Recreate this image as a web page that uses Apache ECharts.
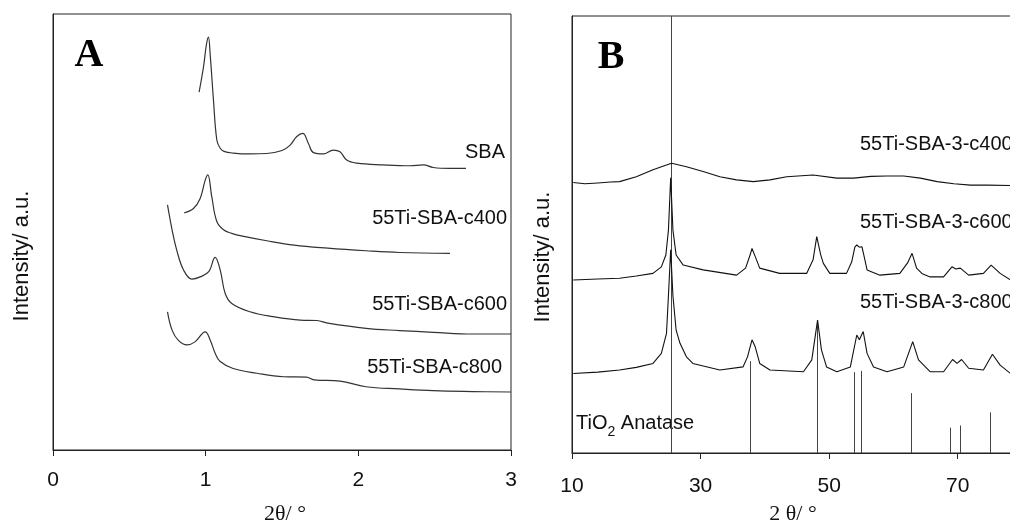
<!DOCTYPE html>
<html><head><meta charset="utf-8">
<script src="https://cdn.jsdelivr.net/npm/echarts@6/dist/echarts.min.js"></script>
<style>html,body{margin:0;padding:0;background:#fff}#c{width:1010px;height:524px}</style>
</head><body><div id="c"></div>
<script>
// ---------- Panel A (low-angle) ----------
const xTicksA = [0, 1, 2, 3];
const sba = [[0.957,82.1],[0.986,87.9],[1.005,93.0],[1.018,94.7],[1.03,90.5],[1.051,80.3],[1.073,71.1],[1.095,69.2],[1.12,68.5],[1.18,68.1],[1.29,67.9],[1.4,68.0],[1.5,68.7],[1.55,69.8],[1.597,71.9],[1.636,72.6],[1.673,70.3],[1.706,68.2],[1.771,67.9],[1.836,68.8],[1.88,68.4],[1.924,66.5],[1.99,65.8],[2.164,65.4],[2.338,65.2],[2.426,65.4],[2.491,64.8],[2.6,64.6],[2.705,64.6]];
const c400A = [[0.86,54.4],[0.92,55.4],[0.964,57.7],[0.997,61.9],[1.014,63.1],[1.04,58.1],[1.073,52.4],[1.117,50.5],[1.17,49.7],[1.25,49.0],[1.4,48.0],[1.58,47.0],[1.8,46.3],[2.05,45.7],[2.27,45.3],[2.6,45.1]];
const c600A = [[0.75,56.2],[0.78,50.5],[0.81,45.9],[0.855,41.3],[0.91,39.2],[0.964,39.7],[1.02,40.9],[1.062,44.2],[1.095,41.3],[1.128,35.9],[1.171,33.6],[1.29,31.7],[1.44,30.6],[1.62,29.8],[1.73,29.7],[1.8,29.1],[2.05,27.9],[2.27,27.4],[2.49,27.0],[2.75,26.6],[3.0,26.6]];
const c800A = [[0.75,31.7],[0.78,27.5],[0.82,25.2],[0.877,24.1],[0.93,24.8],[0.997,27.1],[1.03,25.2],[1.062,22.2],[1.095,20.3],[1.18,18.7],[1.335,17.6],[1.51,16.8],[1.66,16.7],[1.71,16.1],[1.88,15.8],[2.05,14.5],[2.27,14.0],[2.49,13.6],[2.75,13.4],[3.0,13.3]];
const labelsA = ['SBA', '55Ti-SBA-c400', '55Ti-SBA-c600', '55Ti-SBA-c800'];

// ---------- Panel B (wide-angle) ----------
const xTicksB = [10, 30, 50, 70];
const c400B = [[10.2,61.9],[12,61.6],[14,61.8],[16,62.0],[17.4,62.1],[20.0,63.2],[22.6,64.8],[24.7,65.9],[25.5,66.3],[27.8,65.5],[30.4,64.4],[33.0,63.2],[35.6,62.5],[38.2,62.1],[40.8,62.5],[43.4,63.2],[47.5,63.6],[51.2,62.9],[53.8,62.9],[56.5,63.3],[59.0,63.4],[61.6,63.4],[64.2,62.9],[66.8,62.1],[69.4,61.6],[72.0,61.3],[74.6,61.3],[78.2,61.2],[80,61.1]];
const c600B = [[10.2,39.6],[14,39.8],[17.4,40.0],[20,40.5],[22.6,41.1],[23.9,42.6],[24.6,45.3],[25.0,51.0],[25.35,63.0],[25.7,51.0],[26.2,45.3],[27.3,43.0],[30.4,41.9],[35.6,40.7],[37.0,42.3],[37.7,45.3],[38.0,46.8],[38.6,44.6],[39.2,42.3],[42.3,41.1],[46.5,41.1],[47.5,44.2],[48.07,49.5],[48.7,45.3],[49.1,43.4],[50.1,41.1],[52.7,41.1],[53.5,43.7],[54.0,47.1],[54.3,47.6],[54.7,47.1],[55.1,47.2],[55.5,44.6],[55.9,41.9],[57.9,40.7],[61.0,41.1],[62.2,43.5],[62.9,45.7],[63.6,42.3],[64.5,41.0],[65.7,40.3],[67.8,40.3],[69.1,42.6],[69.7,42.1],[70.4,42.3],[71.7,40.7],[74.0,41.1],[75.2,43.0],[76.6,41.1],[78.2,39.6],[80,39.4]];
const c800B = [[10.2,18.2],[14,18.5],[17.4,19.0],[20,19.6],[22.6,20.5],[23.9,22.8],[24.7,27.4],[25.0,36.0],[25.35,46.5],[25.7,36.0],[26.2,28.1],[26.8,25.1],[27.8,22.0],[28.8,20.5],[33.0,19.0],[36.6,19.7],[37.3,22.0],[38.0,25.9],[38.5,24.3],[39.2,20.5],[40.8,19.0],[46.0,18.6],[47.3,21.3],[48.2,30.4],[48.8,23.6],[49.6,19.7],[51.2,18.6],[53.3,19.7],[54.3,27.0],[54.7,25.9],[55.3,27.8],[55.9,22.8],[56.9,19.7],[59.0,18.6],[61.6,19.7],[63.0,25.5],[63.9,21.3],[65.7,18.6],[67.8,18.6],[69.2,21.4],[69.9,20.5],[70.6,21.4],[71.7,19.4],[74.0,19.0],[75.4,22.6],[76.6,20.1],[78.2,18.2],[80,17.8]];
const anatasePos = [25.33, 37.7, 48.07, 53.93, 54.92, 62.76, 68.83, 70.39, 75.06];
const anataseInt = [100, 21.0, 29.5, 18.5, 18.8, 13.7, 5.8, 6.3, 9.3];
const labelsB = ['55Ti-SBA-3-c400', '55Ti-SBA-3-c600', '55Ti-SBA-3-c800'];

const SANS = '"Liberation Sans", Arial, sans-serif';
const SERIF = '"Liberation Serif", "Times New Roman", serif';
const AXC = '#222';

const chart = echarts.init(document.getElementById('c'), null, {renderer: 'canvas'});

function xAxisCfg(idx, min, max, interval, margin) {
  return {
    type: 'value', gridIndex: idx, min: min, max: max, interval: interval,
    axisLine: {show: true, onZero: false, lineStyle: {color: AXC, width: 1}},
    axisTick: {show: true, length: 6, lineStyle: {color: AXC}},
    axisLabel: {show: true, margin: margin, fontSize: 21, color: '#111', fontFamily: SANS,
      formatter: v => ((idx === 0 ? xTicksA : xTicksB).indexOf(v) >= 0 ? String(v) : '')},
    splitLine: {show: false}
  };
}
function yAxisCfg(idx) {
  return {
    type: 'value', gridIndex: idx, min: 0, max: 100,
    axisLine: {show: true, lineStyle: {color: AXC, width: 1}},
    axisTick: {show: false}, axisLabel: {show: false}, splitLine: {show: false}
  };
}
const lineStyleA = {color: '#333', width: 1.2};
const lineStyleB = {color: '#111', width: 1.1};

const anatase = anatasePos.map((p, i) => [p, anataseInt[i]]);

chart.setOption({
  animation: false,
  backgroundColor: '#fff',
  grid: [
    {left: 53, top: 14, width: 458, height: 436, show: true, borderColor: AXC, borderWidth: 1, containLabel: false, outerBoundsMode: 'none'},
    {left: 572, top: 16, width: 450, height: 437, show: true, borderColor: AXC, borderWidth: 1, containLabel: false, outerBoundsMode: 'none'}
  ],
  xAxis: [xAxisCfg(0, 0, 3, 1, 20), xAxisCfg(1, 10, 80, 20, 23)],
  yAxis: [yAxisCfg(0), yAxisCfg(1)],
  series: [
    {type: 'line', xAxisIndex: 0, yAxisIndex: 0, data: sba, showSymbol: false, smooth: 0.4, lineStyle: lineStyleA},
    {type: 'line', xAxisIndex: 0, yAxisIndex: 0, data: c400A, showSymbol: false, smooth: 0.4, lineStyle: lineStyleA},
    {type: 'line', xAxisIndex: 0, yAxisIndex: 0, data: c600A, showSymbol: false, smooth: 0.4, lineStyle: lineStyleA},
    {type: 'line', xAxisIndex: 0, yAxisIndex: 0, data: c800A, showSymbol: false, smooth: 0.4, lineStyle: lineStyleA},
    {type: 'custom', xAxisIndex: 1, yAxisIndex: 1, data: anatase, clip: true,
      renderItem: function (params, api) {
        const p0 = api.coord([api.value(0), 0]);
        const p1 = api.coord([api.value(0), api.value(1)]);
        return {type: 'line', shape: {x1: Math.round(p0[0]) + 0.5, y1: p0[1], x2: Math.round(p1[0]) + 0.5, y2: p1[1]},
          style: {stroke: '#444', lineWidth: 1}};
      }},
    {type: 'line', xAxisIndex: 1, yAxisIndex: 1, data: c400B, showSymbol: false, lineStyle: lineStyleB},
    {type: 'line', xAxisIndex: 1, yAxisIndex: 1, data: c600B, showSymbol: false, lineStyle: lineStyleB},
    {type: 'line', xAxisIndex: 1, yAxisIndex: 1, data: c800B, showSymbol: false, lineStyle: lineStyleB}
  ],
  graphic: [
    {type: 'text', x: 89, y: 56, style: {text: 'A', font: 'bold 40px ' + SERIF, fill: '#000', textAlign: 'center', textVerticalAlign: 'middle'}},
    {type: 'text', x: 611, y: 58, style: {text: 'B', font: 'bold 40px ' + SERIF, fill: '#000', textAlign: 'center', textVerticalAlign: 'middle'}},
    {type: 'text', x: 22, y: 256, rotation: Math.PI / 2, style: {text: 'Intensity/ a.u.', font: '22px ' + SANS, fill: '#111', textAlign: 'center', textVerticalAlign: 'middle'}},
    {type: 'text', x: 543, y: 257, rotation: Math.PI / 2, style: {text: 'Intensity/ a.u.', font: '22px ' + SANS, fill: '#111', textAlign: 'center', textVerticalAlign: 'middle'}},
    {type: 'text', x: 285, y: 503, style: {text: '2θ/ °', font: '22px ' + SERIF, fill: '#111', textAlign: 'center', textVerticalAlign: 'top'}},
    {type: 'text', x: 793, y: 503, style: {text: '2 θ/ °', font: '22px ' + SERIF, fill: '#111', textAlign: 'center', textVerticalAlign: 'top'}},
    {type: 'text', x: 505, y: 152, style: {text: labelsA[0], font: '20px ' + SANS, fill: '#111', textAlign: 'right', textVerticalAlign: 'middle'}},
    {type: 'text', x: 507, y: 218, style: {text: labelsA[1], font: '20px ' + SANS, fill: '#111', textAlign: 'right', textVerticalAlign: 'middle'}},
    {type: 'text', x: 507, y: 304, style: {text: labelsA[2], font: '20px ' + SANS, fill: '#111', textAlign: 'right', textVerticalAlign: 'middle'}},
    {type: 'text', x: 502, y: 367, style: {text: labelsA[3], font: '20px ' + SANS, fill: '#111', textAlign: 'right', textVerticalAlign: 'middle'}},
    {type: 'text', x: 860, y: 144, style: {text: labelsB[0], font: '20px ' + SANS, fill: '#111', textAlign: 'left', textVerticalAlign: 'middle'}},
    {type: 'text', x: 860, y: 222, style: {text: labelsB[1], font: '20px ' + SANS, fill: '#111', textAlign: 'left', textVerticalAlign: 'middle'}},
    {type: 'text', x: 860, y: 302, style: {text: labelsB[2], font: '20px ' + SANS, fill: '#111', textAlign: 'left', textVerticalAlign: 'middle'}},
    {type: 'text', x: 576, y: 422, style: {text: '{a|TiO}{s|2}{a| Anatase}', fill: '#111', textAlign: 'left', textVerticalAlign: 'middle',
      rich: {a: {font: '20px ' + SANS, fill: '#111', verticalAlign: 'bottom', lineHeight: 22}, s: {font: '14px ' + SANS, fill: '#111', verticalAlign: 'bottom', lineHeight: 16, padding: [0, 0, -6, 0]}}}}
  ]
});
</script></body></html>
